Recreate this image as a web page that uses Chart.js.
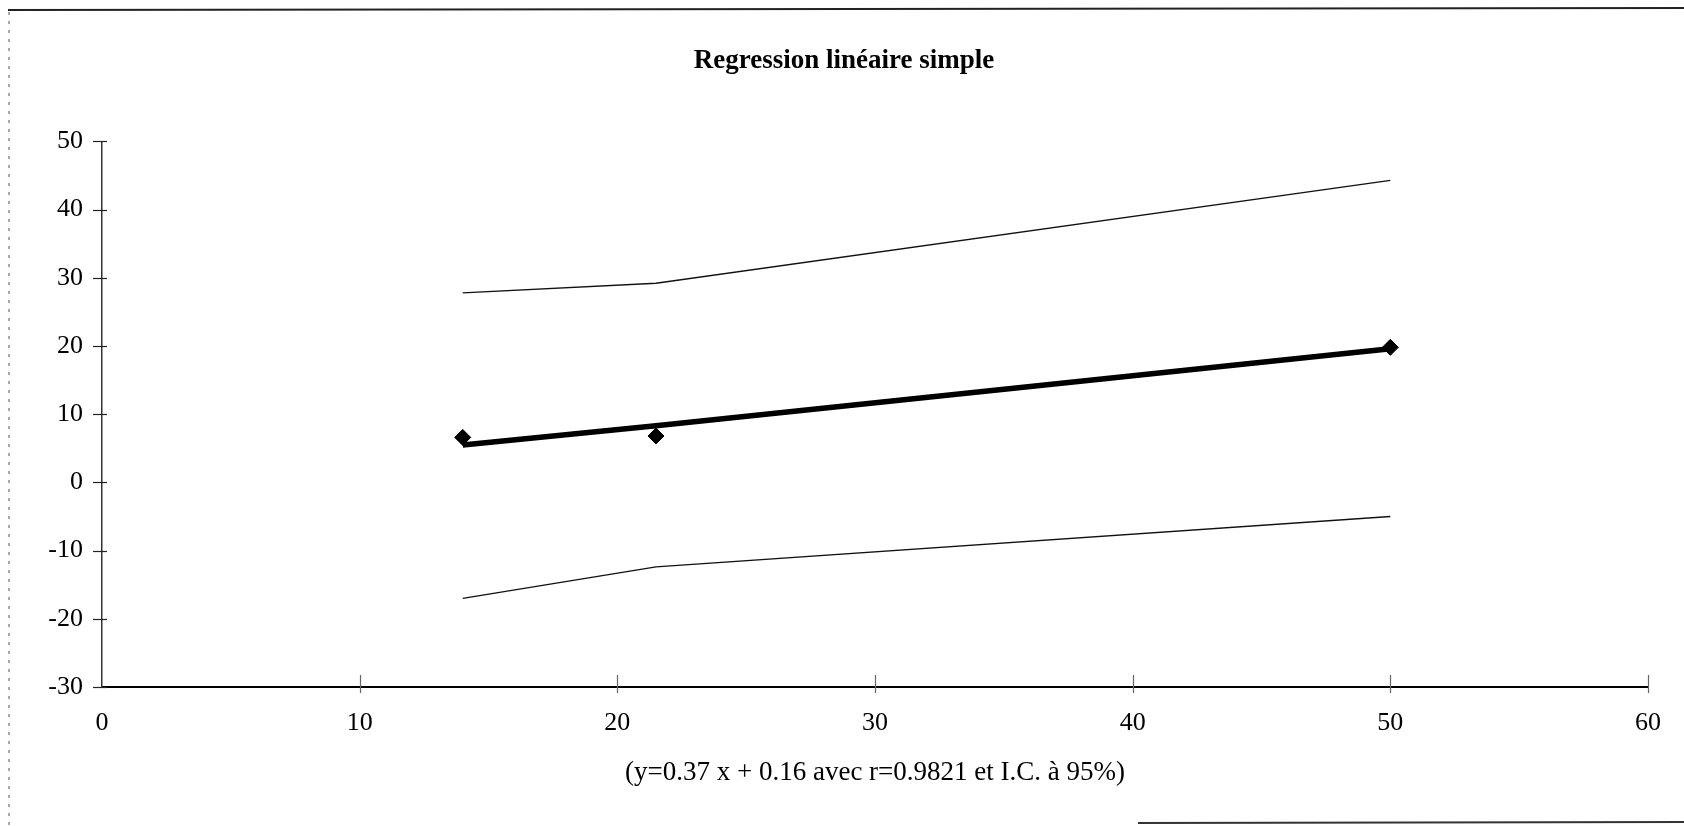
<!DOCTYPE html>
<html>
<head>
<meta charset="utf-8">
<script src="https://cdn.jsdelivr.net/npm/chart.js@4"></script>
<style>
  html, body { margin: 0; padding: 0; background: #fff; }
  canvas { display: block; }
</style>
</head>
<body>
<canvas id="c" width="1684" height="826"></canvas>
<script>
// ---- data ----
const xValues = [14, 21.5, 50];
const observed = [6.6, 6.8, 19.8];
const fitted = [5.5, 8.3, 19.6];
const upperCI = [27.8, 29.2, 44.3];
const lowerCI = [-17.0, -12.4, -5.0];
const xTicks = [0, 10, 20, 30, 40, 50, 60];
const yTicks = [-30, -20, -10, 0, 10, 20, 30, 40, 50];
const titleText = 'Regression linéaire simple';
const xTitleText = '(y=0.37 x + 0.16 avec r=0.9821 et I.C. à 95%)';

const pts = (ys) => xValues.map((x, i) => ({ x: x, y: ys[i] }));
const FONT = '"Liberation Serif", "DejaVu Serif", serif';

const frame = {
  id: 'frame',
  beforeDraw(chart) {
    const ctx = chart.ctx;
    ctx.save();
    ctx.fillStyle = '#fff';
    ctx.fillRect(0, 0, chart.width, chart.height);
    ctx.strokeStyle = '#222';
    ctx.lineWidth = 2;
    ctx.beginPath(); ctx.moveTo(8, 10); ctx.lineTo(1684, 8); ctx.stroke();
    ctx.lineWidth = 1;
    ctx.setLineDash([3, 6]);
    ctx.strokeStyle = '#555';
    ctx.beginPath(); ctx.moveTo(9, 12); ctx.lineTo(9, 826); ctx.stroke();
    ctx.setLineDash([]);
    ctx.lineWidth = 2;
    ctx.strokeStyle = '#333';
    ctx.beginPath(); ctx.moveTo(1138, 823); ctx.lineTo(1684, 822); ctx.stroke();
    ctx.restore();
  },
  afterDraw(chart) {
    const ctx = chart.ctx;
    const xs = chart.scales.x, ys = chart.scales.y;
    ctx.save();
    ctx.strokeStyle = '#222';
    ctx.lineWidth = 1.2;
    ys.ticks.forEach(t => {
      const py = Math.round(ys.getPixelForValue(t.value)) + 0.5;
      ctx.beginPath(); ctx.moveTo(xs.left - 9, py); ctx.lineTo(xs.left + 5, py); ctx.stroke();
    });
    ctx.strokeStyle = '#666';
    xs.ticks.forEach(t => {
      if (t.value === 0) return;
      const px = Math.round(xs.getPixelForValue(t.value)) + 0.5;
      ctx.beginPath(); ctx.moveTo(px, ys.bottom - 12); ctx.lineTo(px, ys.bottom + 6); ctx.stroke();
    });
    ctx.restore();
  }
};

new Chart(document.getElementById('c'), {
  type: 'scatter',
  data: {
    datasets: [
      { label: 'upper', data: pts(upperCI), showLine: true, borderColor: '#111', borderWidth: 1.3, pointRadius: 0, tension: 0 },
      { label: 'lower', data: pts(lowerCI), showLine: true, borderColor: '#111', borderWidth: 1.3, pointRadius: 0, tension: 0 },
      { label: 'fit', data: pts(fitted), showLine: true, borderColor: '#000', borderWidth: 5.5, pointRadius: 0, tension: 0 },
      { label: 'obs', data: pts(observed), showLine: false, pointStyle: 'rectRot', pointRadius: 8, backgroundColor: '#000', borderColor: '#000', borderWidth: 1 }
    ]
  },
  options: {
    responsive: false,
    animation: false,
    devicePixelRatio: 1,
    layout: { padding: { left: 40, right: 36, top: 0, bottom: 0 } },
    plugins: {
      legend: { display: false },
      tooltip: { enabled: false },
      title: {
        display: true,
        text: titleText,
        color: '#000',
        font: { family: FONT, size: 27, weight: 'bold', lineHeight: 1.2 },
        padding: { top: 45, bottom: 64 }
      }
    },
    scales: {
      x: {
        type: 'linear',
        min: 0, max: 60,
        afterBuildTicks(scale) { scale.ticks = xTicks.map(v => ({ value: v })); },
        afterFit(scale) { scale.height = 826 - 687; },
        grid: { display: false, drawTicks: false },
        border: { display: true, color: '#000', width: 2 },
        ticks: { color: '#000', padding: 21, font: { family: FONT, size: 26 } },
        title: {
          display: true, text: xTitleText, color: '#000',
          font: { family: FONT, size: 27, lineHeight: 1.2 },
          padding: { top: 0, bottom: 37 }
        }
      },
      y: {
        type: 'linear',
        min: -30, max: 50,
        afterBuildTicks(scale) { scale.ticks = yTicks.map(v => ({ value: v })); },
        afterFit(scale) { scale.width = 62; },
        grid: { display: false, drawTicks: false },
        border: { display: true, color: '#333', width: 1.5 },
        ticks: { color: '#000', padding: 19, font: { family: FONT, size: 26 } }
      }
    }
  },
  plugins: [frame]
});
</script>
</body>
</html>
